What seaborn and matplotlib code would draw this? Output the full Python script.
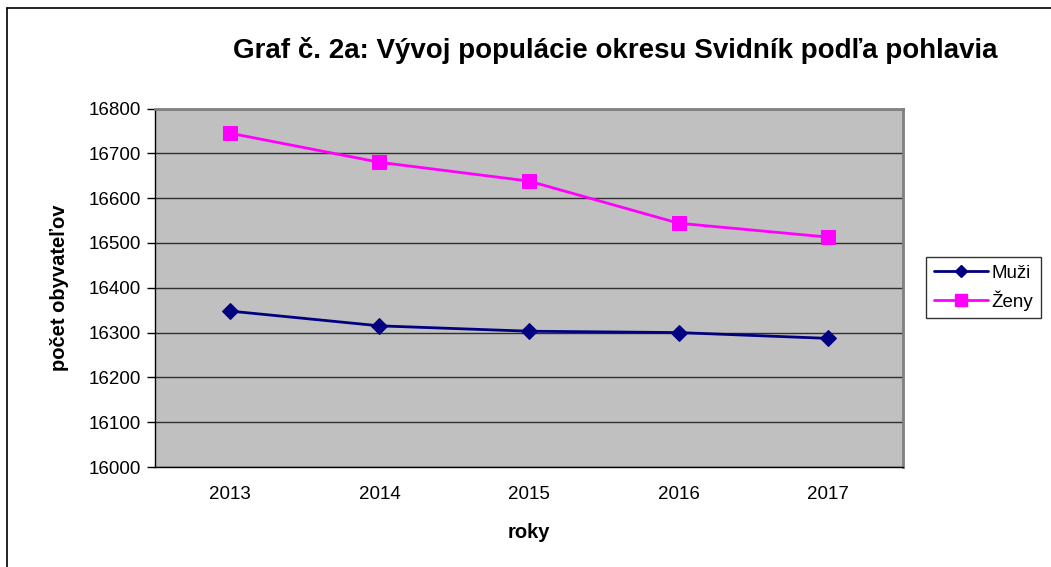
import matplotlib
matplotlib.use("Agg")
import matplotlib.pyplot as plt
import seaborn as sns
import pandas as pd
from matplotlib.lines import Line2D

years = ["2013", "2014", "2015", "2016", "2017"]
muzi = [16348, 16315, 16303, 16300, 16287]
zeny = [16745, 16680, 16638, 16544, 16513]
series_names = ["Muži", "Ženy"]
title = "Graf č. 2a: Vývoj populácie okresu Svidník podľa pohlavia"
y_ticks = [16000, 16100, 16200, 16300, 16400, 16500, 16600, 16700, 16800]

sns.set_style("white")
plt.rcParams["font.family"] = ["Liberation Sans", "DejaVu Sans"]
plt.rcParams["text.color"] = "black"
plt.rcParams["axes.labelcolor"] = "black"
plt.rcParams["xtick.color"] = "black"
plt.rcParams["ytick.color"] = "black"

rows = []
for i, y in enumerate(years):
    rows.append({"idx": i, "value": muzi[i], "series": series_names[0]})
    rows.append({"idx": i, "value": zeny[i], "series": series_names[1]})
df = pd.DataFrame(rows)

fig = plt.figure(figsize=(10.51, 5.67), dpi=100)
ax = fig.add_axes([155/1051, 1-467/567, (903-155)/1051, (467-108.5)/567])
ax.set_facecolor("#c0c0c0")

palette = {"Muži": "#000080", "Ženy": "#ff00ff"}
markers = {"Muži": "D", "Ženy": "s"}
for name in series_names:
    sub = df[df["series"] == name]
    sns.lineplot(data=sub, x="idx", y="value", ax=ax, color=palette[name],
                 marker=markers[name], markersize=8 if name == "Muži" else 10,
                 markeredgecolor=palette[name], linewidth=2, legend=False, zorder=3)

tick_fs = 13.5
ax.set_xlim(-0.5, len(years) - 0.5)
ax.set_ylim(16000, 16800)
ax.set_yticks(y_ticks)
ax.set_yticklabels([str(v) for v in y_ticks], fontsize=tick_fs)
ax.set_xticks(range(len(years)))
ax.set_xticklabels(years, fontsize=tick_fs)
ax.set_xticks([i - 0.5 for i in range(len(years) + 1)], minor=True)
ax.tick_params(axis="x", which="major", length=0, pad=14)
ax.tick_params(axis="x", which="minor", length=6, width=1, color="black", direction="out")
ax.tick_params(axis="y", length=6, width=1, color="black", direction="out", pad=4, left=True)
ax.grid(axis="y", color="#303030", linewidth=1, zorder=1)
ax.grid(axis="x", visible=False)
ax.set_axisbelow(True)

for s in ["left", "bottom"]:
    ax.spines[s].set_color("black")
    ax.spines[s].set_linewidth(1)
for s in ["top", "right"]:
    ax.spines[s].set_color("#808080")
    ax.spines[s].set_linewidth(2)

ax.set_xlabel("roky", fontsize=14.5, fontweight="bold", labelpad=14)
ax.set_ylabel("počet obyvateľov", fontsize=14.5, fontweight="bold", labelpad=10)
ax.yaxis.set_label_coords(-(155-69)/748, 0.5)

fig.text(615/1051, 1-50/567, title, fontsize=20, fontweight="bold", ha="center", va="center")

handles = [Line2D([0], [0], color=palette[n], marker=markers[n], lw=2,
                  markersize=6 if n == "Muži" else 8, markeredgecolor=palette[n]) for n in series_names]
leg = fig.legend(handles, series_names, loc="upper left", bbox_to_anchor=(926/1051, 1-257/567),
                 fontsize=13.5, frameon=True, fancybox=False, edgecolor="black",
                 handlelength=2.9, borderpad=0.4, labelspacing=0.45, handletextpad=0.2, borderaxespad=0)
leg.get_frame().set_linewidth(1)

fig.add_artist(Line2D([6.5/1051, 6.5/1051], [0, 1-8/567], color="black", lw=1.2, transform=fig.transFigure))
fig.add_artist(Line2D([6.5/1051, 1], [1-8/567, 1-8/567], color="black", lw=1.2, transform=fig.transFigure))

fig.savefig("out.png", dpi=100)
